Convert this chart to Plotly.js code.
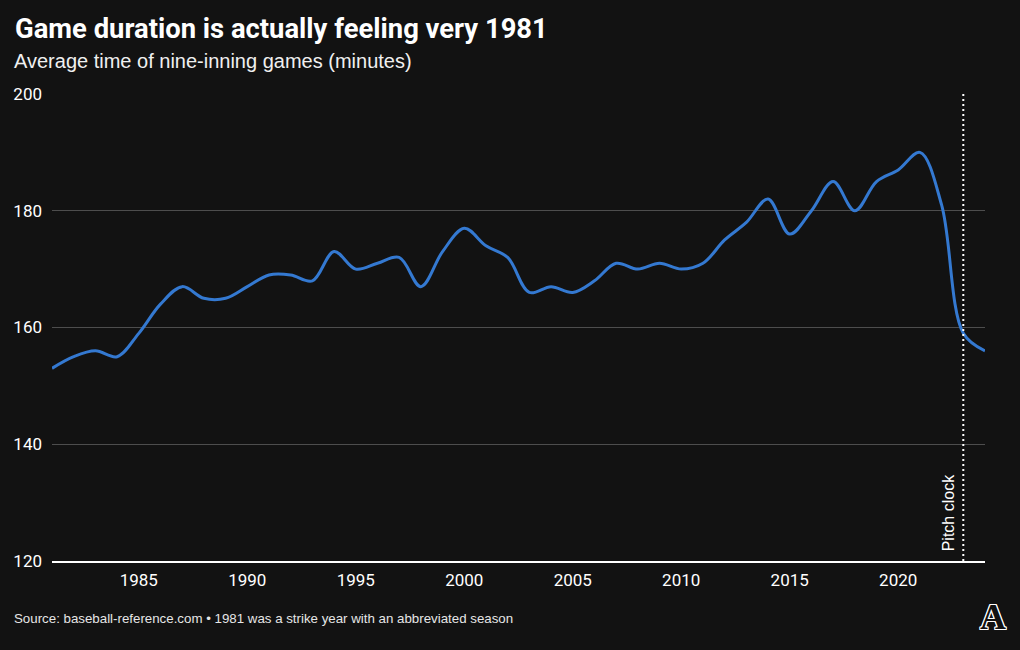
<!DOCTYPE html>
<html>
<head>
<meta charset="utf-8">
<script src="https://cdn.plot.ly/plotly-3.0.1.min.js"></script>
<style>
  html, body { margin: 0; padding: 0; background: #121212; }
  #chart { width: 1020px; height: 650px; }
</style>
</head>
<body>
<div id="chart"></div>
<script>
// Years and average time of nine-inning games (minutes)
const years = [
  1981, 1982, 1983, 1984, 1985, 1986, 1987, 1988, 1989, 1990,
  1991, 1992, 1993, 1994, 1995, 1996, 1997, 1998, 1999, 2000,
  2001, 2002, 2003, 2004, 2005, 2006, 2007, 2008, 2009, 2010,
  2011, 2012, 2013, 2014, 2015, 2016, 2017, 2018, 2019, 2020,
  2021, 2022, 2023, 2024
];
const minutes = [
  153, 155, 156, 155, 159, 164, 167, 165, 165, 167,
  169, 169, 168, 173, 170, 171, 172, 167, 173, 177,
  174, 172, 166, 167, 166, 168, 171, 170, 171, 170,
  171, 175, 178, 182, 176, 180, 185, 180, 185, 187,
  190, 181, 159, 156
];
const xTickVals = [1985, 1990, 1995, 2000, 2005, 2010, 2015, 2020];
const yTickVals = [120, 140, 160, 180, 200];
const pitchClockYear = 2023;

const titleText = "Game duration is actually feeling very 1981";
const subtitleText = "Average time of nine-inning games (minutes)";
const sourceText = "Source: baseball-reference.com \u2022 1981 was a strike year with an abbreviated season";
const markerLabel = "Pitch clock";

const trace = {
  x: years,
  y: minutes,
  type: "scatter",
  mode: "lines",
  line: { color: "#3479d1", width: 3, shape: "spline", smoothing: 1 },
  hoverinfo: "x+y",
  showlegend: false
};

const layout = {
  width: 1020,
  height: 650,
  paper_bgcolor: "#121212",
  plot_bgcolor: "#121212",
  margin: { l: 52, r: 35, t: 94, b: 89, pad: 0 },
  showlegend: false,
  title: {
    text: "<b>" + titleText + "</b>",
    font: { family: "Roboto, 'Liberation Sans', sans-serif", size: 27.4, color: "#ffffff" },
    xref: "container", x: 15 / 1020, xanchor: "left",
    yref: "container", y: 1 - 28.3 / 650, yanchor: "middle",
    pad: { t: 0, b: 0, l: 0, r: 0 }
  },
  xaxis: {
    range: [1981, 2024],
    tickvals: xTickVals,
    ticktext: xTickVals.map(String),
    showgrid: false,
    zeroline: false,
    showline: true,
    linecolor: "#ffffff",
    linewidth: 2,
    ticks: "",
    ticklabelstandoff: 3,
    tickfont: { family: "Roboto, 'Liberation Sans', sans-serif", size: 17, color: "#ffffff" },
    fixedrange: true
  },
  yaxis: {
    range: [120, 200],
    tickvals: yTickVals,
    ticktext: yTickVals.map(String),
    showgrid: true,
    gridcolor: "#4d4d4d",
    gridwidth: 1,
    zeroline: false,
    showline: false,
    ticks: "",
    ticklabelstandoff: 9,
    tickfont: { family: "Roboto, 'Liberation Sans', sans-serif", size: 17, color: "#ffffff" },
    fixedrange: true
  },
  shapes: [
    {
      type: "line", xref: "x", yref: "paper",
      x0: pitchClockYear, x1: pitchClockYear, y0: 0, y1: 1,
      line: { color: "#ffffff", width: 2, dash: "2px,3px" },
      layer: "above"
    }
  ],
  annotations: [
    {
      text: subtitleText,
      xref: "paper", yref: "paper",
      x: (12 - 52) / 933, y: (561 - 61.3) / 467,
      xanchor: "left", yanchor: "middle",
      showarrow: false,
      font: { family: "'Liberation Sans', Arial, sans-serif", size: 20, color: "#f0f0f0" }
    },
    {
      text: sourceText,
      xref: "paper", yref: "paper",
      x: (12 - 52) / 933, y: (561 - 618.5) / 467,
      xanchor: "left", yanchor: "middle",
      showarrow: false,
      font: { family: "'Liberation Sans', Arial, sans-serif", size: 13.3, color: "#e6e6e6" }
    },
    {
      text: markerLabel,
      xref: "x", yref: "y",
      x: pitchClockYear, y: 120,
      xanchor: "right", yanchor: "bottom",
      xshift: -4, yshift: 8,
      textangle: -90,
      showarrow: false,
      font: { family: "'Liberation Sans', Arial, sans-serif", size: 16, color: "#ffffff" }
    },
    {
      text: "<b>A</b>",
      xref: "paper", yref: "paper",
      x: (993 - 52) / 933, y: (561 - 617) / 467,
      xanchor: "center", yanchor: "middle",
      showarrow: false,
      font: {
        family: "'Liberation Serif', 'DejaVu Serif', serif", size: 36, color: "#121212",
        shadow: "1px 0 0 #fff, -1px 0 0 #fff, 0 1px 0 #fff, 0 -1px 0 #fff, 1px 1px 0 #fff, -1px -1px 0 #fff, 1px -1px 0 #fff, -1px 1px 0 #fff"
      }
    }
  ]
};

Plotly.newPlot("chart", [trace], layout, { displayModeBar: false, staticPlot: true });
</script>
</body>
</html>
